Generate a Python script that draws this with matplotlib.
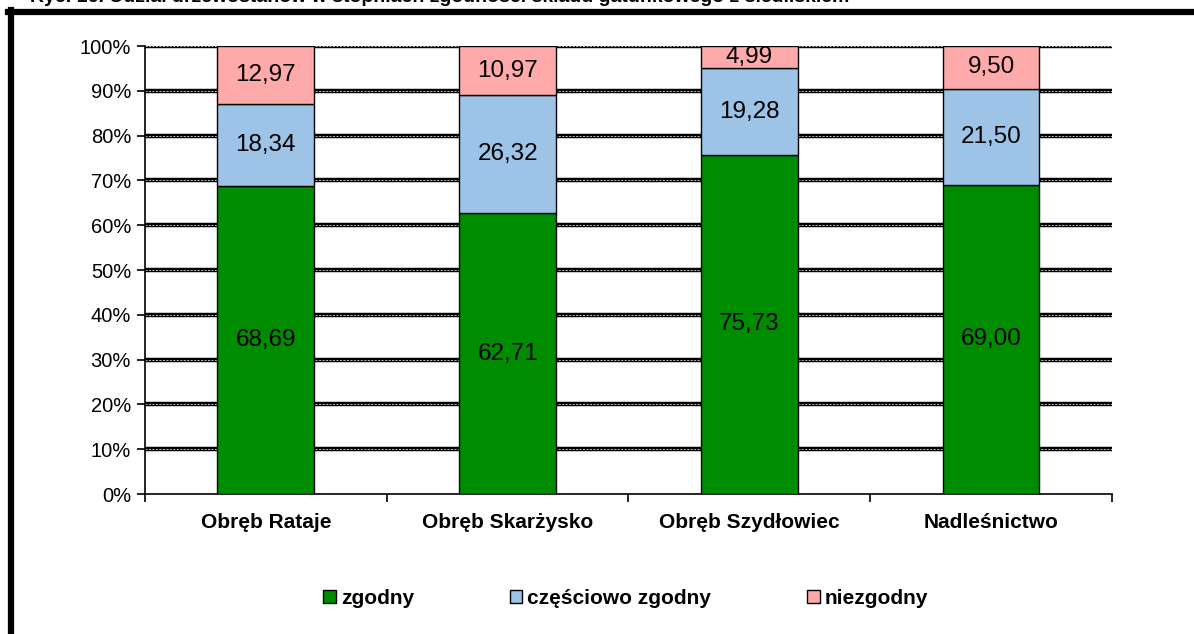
import matplotlib.pyplot as plt
import numpy as np
from matplotlib.lines import Line2D
from matplotlib.patches import Patch

plt.rcParams['font.family'] = ['Liberation Sans', 'DejaVu Sans']

# Udział drzewostanów wg stopnia zgodności (%)
obreby = ['Obręb Rataje', 'Obręb Skarżysko', 'Obręb Szydłowiec', 'Nadleśnictwo']
zgodny = [68.69, 62.71, 75.73, 69.00]
czesciowo = [18.34, 26.32, 19.28, 21.50]
niezgodny = [12.97, 10.97, 4.99, 9.50]
serie = ['zgodny', 'częściowo zgodny', 'niezgodny']
kolory = ['#008c00', '#9dc3e6', '#ffaaaa']

fig = plt.figure(figsize=(11.94, 6.34), dpi=100)
ax = fig.add_axes([0.1214, 0.2208, 0.8099, 0.7066])

x = np.arange(len(obreby))
dol = np.zeros(len(obreby))
for wartosci, kolor in zip([zgodny, czesciowo, niezgodny], kolory):
    w = np.array(wartosci) / 100
    ax.bar(x, w, 0.4, bottom=dol, color=kolor, edgecolor='black', linewidth=1.0, zorder=3)
    for xi, b, h in zip(x, dol, w):
        ax.text(xi, b + h / 2, f'{h * 100:.2f}'.replace('.', ','), ha='center', va='center',
                fontsize=17.5, zorder=4)
    dol += w

# grube linie siatki z białą kreską w środku
for yv in np.arange(0.1, 1.01, 0.1):
    ax.axhline(yv, color='black', linewidth=3.2, zorder=1)
    ax.axhline(yv, color='white', linewidth=0.5, dashes=(3, 2), zorder=1.5)

ax.set_xlim(-0.5, 3.5)
ax.set_ylim(0, 1)
ax.set_yticks(np.arange(0, 1.01, 0.1))
ax.set_yticklabels([f'{int(round(v * 100))}%' for v in np.arange(0, 1.01, 0.1)], fontsize=14.5)
ax.tick_params(axis='y', direction='out', length=6, width=1.2, pad=4)
ax.set_xticks(x)
ax.set_xticklabels(obreby, fontsize=15, fontweight='bold')
ax.tick_params(axis='x', which='major', length=0, pad=14)
ax.set_xticks(np.arange(-0.5, 3.6, 1), minor=True)
ax.tick_params(axis='x', which='minor', direction='out', length=6, width=1.2)
for s in ['top', 'right']:
    ax.spines[s].set_visible(False)
ax.spines['left'].set_linewidth(1.2)
ax.spines['bottom'].set_linewidth(1.2)

uchwyty = [Patch(facecolor=k, edgecolor='black', linewidth=1.0) for k in kolory]
fig.legend(uchwyty, serie, loc='center', bbox_to_anchor=(0.524, 1 - 598 / 634), ncol=3,
           frameon=False, prop={'weight': 'bold', 'size': 15}, handlelength=0.6,
           handleheight=0.6, handletextpad=0.25, columnspacing=4.6)

# ramka i obcięty tytuł
fig.add_artist(Line2D([8 / 1194, 1], [1 - 12 / 634] * 2, color='black', linewidth=4.5,
                      transform=fig.transFigure))
fig.add_artist(Line2D([11 / 1194] * 2, [0, 1 - 10 / 634], color='black', linewidth=4.5,
                      transform=fig.transFigure))
fig.text(30 / 1194, 1 - 2 / 634, 'Ryc. 16. Udział drzewostanów w stopniach zgodności składu '
         'gatunkowego z siedliskiem', fontsize=14, fontweight='bold', va='baseline')

fig.savefig('out.png', dpi=100)
